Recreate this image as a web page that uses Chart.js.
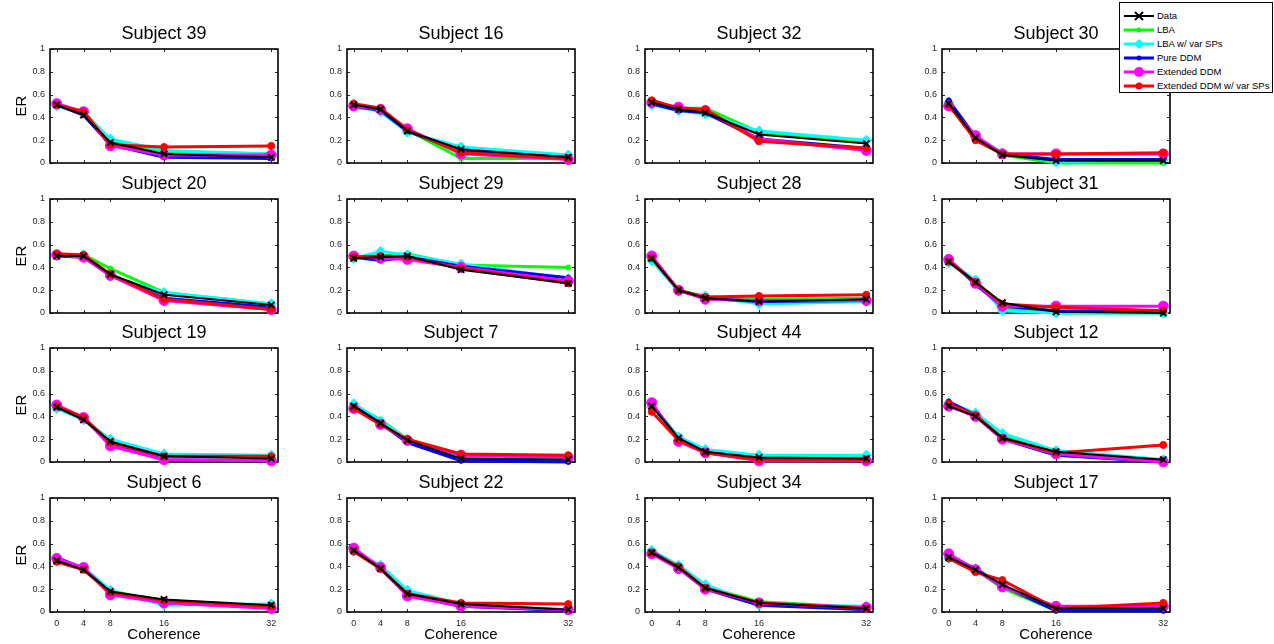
<!DOCTYPE html>
<html>
<head>
<meta charset="utf-8">
<script src="https://cdn.jsdelivr.net/npm/chart.js@4.4.1/dist/chart.umd.min.js"></script>
<style>
  body { margin: 0; background: #fff; width: 1274px; height: 644px; position: relative; overflow: hidden;
         font-family: "Liberation Sans", Arial, Helvetica, sans-serif; }
  #legend { position: absolute; left: 1119px; top: 2px; width: 152px; height: 89px; border: 1px solid #000;
            background: #fff; z-index: 5; }
  .lg { position: absolute; left: 0; width: 152px; height: 14px; }
  .lg svg { position: absolute; left: 3px; top: 1px; }
  .lg span { position: absolute; left: 37px; top: 1px; font-size: 9.5px; line-height: 12px; color: #000; white-space: nowrap; }
</style>
</head>
<body>
<div id="legend"></div>
<script>
const coherence = [0, 4, 8, 16, 32];
const subjects = [39, 16, 32, 30, 20, 29, 28, 31, 19, 7, 44, 12, 6, 22, 34, 17];
const seriesNames = ["Data", "LBA", "LBA w/ var SPs", "Pure DDM", "Extended DDM", "Extended DDM w/ var SPs"];
const yTicks = [0, 0.2, 0.4, 0.6, 0.8, 1];

// one row per subject, values at coherence 0,4,8,16,32
const dataER = [
  [0.51, 0.42, 0.18, 0.08, 0.05], [0.51, 0.47, 0.28, 0.12, 0.05], [0.53, 0.47, 0.44, 0.25, 0.17], [0.52, 0.22, 0.07, 0.02, 0.02],
  [0.50, 0.50, 0.34, 0.16, 0.07], [0.48, 0.49, 0.50, 0.38, 0.26], [0.48, 0.20, 0.13, 0.10, 0.12], [0.45, 0.27, 0.09, 0.01, 0.00],
  [0.48, 0.37, 0.18, 0.05, 0.03], [0.49, 0.34, 0.19, 0.03, 0.02], [0.49, 0.21, 0.09, 0.04, 0.03], [0.49, 0.40, 0.21, 0.09, 0.02],
  [0.45, 0.37, 0.18, 0.11, 0.06], [0.54, 0.38, 0.16, 0.07, 0.02], [0.52, 0.39, 0.21, 0.08, 0.03], [0.48, 0.37, 0.24, 0.03, 0.03]
];
const lbaER = [
  [0.51, 0.45, 0.20, 0.10, 0.08], [0.49, 0.46, 0.29, 0.04, 0.04], [0.53, 0.48, 0.48, 0.27, 0.19], [0.53, 0.22, 0.07, 0.00, 0.00],
  [0.50, 0.51, 0.39, 0.18, 0.08], [0.48, 0.50, 0.52, 0.42, 0.40], [0.48, 0.20, 0.13, 0.12, 0.13], [0.46, 0.28, 0.04, 0.00, 0.00],
  [0.48, 0.38, 0.19, 0.06, 0.05], [0.50, 0.37, 0.20, 0.04, 0.03], [0.50, 0.22, 0.10, 0.05, 0.04], [0.51, 0.42, 0.23, 0.09, 0.02],
  [0.46, 0.38, 0.19, 0.08, 0.05], [0.54, 0.39, 0.17, 0.06, 0.01], [0.52, 0.40, 0.22, 0.09, 0.04], [0.47, 0.37, 0.21, 0.01, 0.02]
];
const lbaVarER = [
  [0.50, 0.44, 0.21, 0.11, 0.08], [0.52, 0.45, 0.27, 0.14, 0.07], [0.51, 0.46, 0.43, 0.28, 0.20], [0.53, 0.23, 0.09, 0.01, 0.03],
  [0.50, 0.51, 0.32, 0.18, 0.08], [0.48, 0.54, 0.51, 0.43, 0.30], [0.46, 0.19, 0.15, 0.08, 0.10], [0.44, 0.29, 0.02, 0.00, 0.00],
  [0.47, 0.37, 0.20, 0.07, 0.06], [0.51, 0.36, 0.20, 0.03, 0.02], [0.48, 0.22, 0.11, 0.06, 0.06], [0.52, 0.43, 0.25, 0.10, 0.02],
  [0.47, 0.39, 0.19, 0.06, 0.07], [0.53, 0.41, 0.19, 0.07, 0.02], [0.54, 0.41, 0.24, 0.06, 0.05], [0.47, 0.38, 0.23, 0.05, 0.03]
];
const ddmER = [
  [0.51, 0.42, 0.16, 0.05, 0.04], [0.50, 0.46, 0.28, 0.10, 0.05], [0.52, 0.46, 0.44, 0.21, 0.13], [0.55, 0.23, 0.08, 0.03, 0.03],
  [0.50, 0.49, 0.33, 0.13, 0.05], [0.49, 0.46, 0.49, 0.41, 0.31], [0.49, 0.20, 0.13, 0.10, 0.11], [0.47, 0.25, 0.06, 0.02, 0.01],
  [0.49, 0.38, 0.16, 0.02, 0.01], [0.49, 0.34, 0.17, 0.01, 0.00], [0.51, 0.20, 0.08, 0.03, 0.02], [0.53, 0.41, 0.20, 0.06, 0.00],
  [0.48, 0.38, 0.17, 0.08, 0.04], [0.55, 0.38, 0.15, 0.05, 0.01], [0.53, 0.39, 0.20, 0.06, 0.02], [0.49, 0.38, 0.23, 0.01, 0.01]
];
const extER = [
  [0.52, 0.45, 0.15, 0.07, 0.07], [0.50, 0.47, 0.30, 0.08, 0.03], [0.53, 0.49, 0.46, 0.21, 0.11], [0.50, 0.24, 0.08, 0.08, 0.08],
  [0.51, 0.49, 0.33, 0.11, 0.03], [0.50, 0.48, 0.47, 0.40, 0.28], [0.50, 0.20, 0.12, 0.11, 0.11], [0.47, 0.26, 0.06, 0.06, 0.06],
  [0.50, 0.39, 0.14, 0.02, 0.01], [0.47, 0.33, 0.19, 0.06, 0.04], [0.52, 0.18, 0.08, 0.01, 0.01], [0.49, 0.40, 0.20, 0.07, 0.00],
  [0.47, 0.39, 0.15, 0.08, 0.03], [0.56, 0.39, 0.14, 0.05, 0.02], [0.51, 0.38, 0.20, 0.08, 0.04], [0.51, 0.37, 0.22, 0.05, 0.05]
];
const extVarER = [
  [0.51, 0.45, 0.16, 0.14, 0.15], [0.52, 0.48, 0.29, 0.09, 0.04], [0.55, 0.48, 0.47, 0.19, 0.13], [0.51, 0.20, 0.08, 0.08, 0.09],
  [0.52, 0.51, 0.34, 0.12, 0.03], [0.49, 0.50, 0.49, 0.39, 0.26], [0.48, 0.20, 0.14, 0.15, 0.16], [0.45, 0.27, 0.08, 0.05, 0.02],
  [0.49, 0.39, 0.17, 0.05, 0.05], [0.47, 0.33, 0.20, 0.07, 0.06], [0.44, 0.19, 0.08, 0.02, 0.02], [0.51, 0.41, 0.21, 0.08, 0.15],
  [0.44, 0.37, 0.17, 0.10, 0.05], [0.53, 0.38, 0.16, 0.08, 0.07], [0.52, 0.40, 0.21, 0.08, 0.03], [0.47, 0.35, 0.28, 0.03, 0.08]
];
const allSeries = [dataER, lbaER, lbaVarER, ddmER, extER, extVarER];

// look of each series
const colors = ["#000000", "#00ff00", "#00ffff", "#0000ff", "#ff00ff", "#ff0000"];
const markers = ["crossRot", "circle", "rectRot", "circle", "circle", "circle"];
const markerSize = [4.5, 2.5, 5, 2.5, 5, 3.5];
const lineWidth = [2, 3, 3, 3, 3, 3];
const drawOrder = [0, 5, 4, 3, 2, 1];

// panel geometry
const colLeft = [50, 347, 645, 942];
const rowTop = [49, 199, 348, 498];
const plotW = 228, plotH = 114;
const FONT = '"Liberation Sans", Arial, Helvetica, sans-serif';
const tickColor = "#262626";

const boxPlugin = {
  id: "box",
  beforeDatasetsDraw(chart) {
    const { ctx, chartArea: a, scales } = chart;
    ctx.save();
    ctx.strokeStyle = tickColor;
    ctx.lineWidth = 1;
    ctx.beginPath();
    yTicks.forEach(v => {
      const y = Math.round(scales.y.getPixelForValue(v)) + 0.5;
      ctx.moveTo(a.left, y); ctx.lineTo(a.left + 3, y);
      ctx.moveTo(a.right, y); ctx.lineTo(a.right - 3, y);
    });
    coherence.forEach(v => {
      const x = Math.round(scales.x.getPixelForValue(v)) + 0.5;
      ctx.moveTo(x, a.bottom); ctx.lineTo(x, a.bottom - 3);
      ctx.moveTo(x, a.top); ctx.lineTo(x, a.top + 3);
    });
    ctx.stroke();
    ctx.strokeStyle = "#000";
    ctx.lineWidth = 1.6;
    ctx.strokeRect(a.left, a.top, a.right - a.left, a.bottom - a.top);
    ctx.restore();
  },
  afterDraw(chart, args, opts) {
    const { ctx, chartArea: a } = chart;
    ctx.save();
    ctx.fillStyle = "#000";
    ctx.font = "18px " + FONT;
    ctx.textAlign = "center";
    ctx.textBaseline = "middle";
    ctx.fillText(opts.text, (a.left + a.right) / 2, a.top - 15);
    ctx.restore();
  }
};

subjects.forEach((subj, k) => {
  const r = Math.floor(k / 4), c = k % 4;
  const bottomRow = r === 3;
  const xh = bottomRow ? 32 : 8;
  const w = 50 + plotW + 12, h = 30 + plotH + xh;
  const cv = document.createElement("canvas");
  cv.width = w; cv.height = h;
  cv.style.cssText = `position:absolute;left:${colLeft[c] - 50}px;top:${rowTop[r] - 30}px;width:${w}px;height:${h}px`;
  document.body.appendChild(cv);

  const datasets = allSeries.map((ser, i) => ({
    label: seriesNames[i],
    data: coherence.map((x, j) => ({ x: x, y: ser[k][j] })),
    borderColor: colors[i],
    backgroundColor: colors[i],
    borderWidth: lineWidth[i],
    pointStyle: markers[i],
    pointRadius: markerSize[i],
    pointBorderWidth: i === 0 ? 2 : 1,
    pointBorderColor: colors[i],
    pointBackgroundColor: colors[i],
    tension: 0,
    clip: false,
    order: drawOrder[i]
  }));

  new Chart(cv, {
    type: "line",
    data: { datasets },
    options: {
      responsive: false,
      animation: false,
      devicePixelRatio: 1,
      layout: { padding: { top: 30, right: 12, left: 0, bottom: 0 } },
      plugins: { legend: { display: false }, tooltip: { enabled: false }, box: { text: "Subject " + subj } },
      scales: {
        x: {
          type: "linear", min: -1, max: 33,
          grid: { display: false, drawTicks: false },
          border: { display: false },
          afterBuildTicks: s => { s.ticks = coherence.map(v => ({ value: v })); },
          afterFit: s => { s.height = xh; s.paddingLeft = 0; s.paddingRight = 0; },
          ticks: { display: bottomRow, padding: 6, color: tickColor, font: { family: FONT, size: 9 }, maxRotation: 0, autoSkip: false },
          title: { display: bottomRow, text: "Coherence", color: "#000", font: { family: FONT, size: 15 }, padding: { top: 0, bottom: 0 } }
        },
        y: {
          min: 0, max: 1,
          grid: { display: false, drawTicks: false },
          border: { display: false },
          afterBuildTicks: s => { s.ticks = yTicks.map(v => ({ value: v })); },
          afterFit: s => { s.width = 50; s.paddingTop = 0; s.paddingBottom = 0; },
          ticks: { padding: 5, color: tickColor, font: { family: FONT, size: 9 }, callback: v => String(+v.toFixed(1)) },
          title: { display: c === 0, text: "ER", color: "#000", font: { family: FONT, size: 15 }, padding: { top: 13, bottom: 0 } }
        }
      }
    },
    plugins: [boxPlugin]
  });
});

// legend
const legend = document.getElementById("legend");
const rowY = [6, 20, 34, 48, 62, 76];
seriesNames.forEach((name, i) => {
  const row = document.createElement("div");
  row.className = "lg";
  row.style.top = rowY[i] + "px";
  const col = colors[i];
  let mark;
  if (i === 0) {
    mark = `<path d="M12 2 L20 10 M20 2 L12 10" stroke="${col}" stroke-width="2"/>`;
  } else if (markers[i] === "rectRot") {
    mark = `<polygon points="16,1 21,6 16,11 11,6" fill="${col}"/>`;
  } else {
    mark = `<circle cx="16" cy="6" r="${markerSize[i]}" fill="${col}"/>`;
  }
  row.innerHTML = `<svg width="32" height="12"><line x1="1" y1="6" x2="31" y2="6" stroke="${col}" stroke-width="${lineWidth[i]}"/>${mark}</svg><span>${name}</span>`;
  legend.appendChild(row);
});
</script>
</body>
</html>
